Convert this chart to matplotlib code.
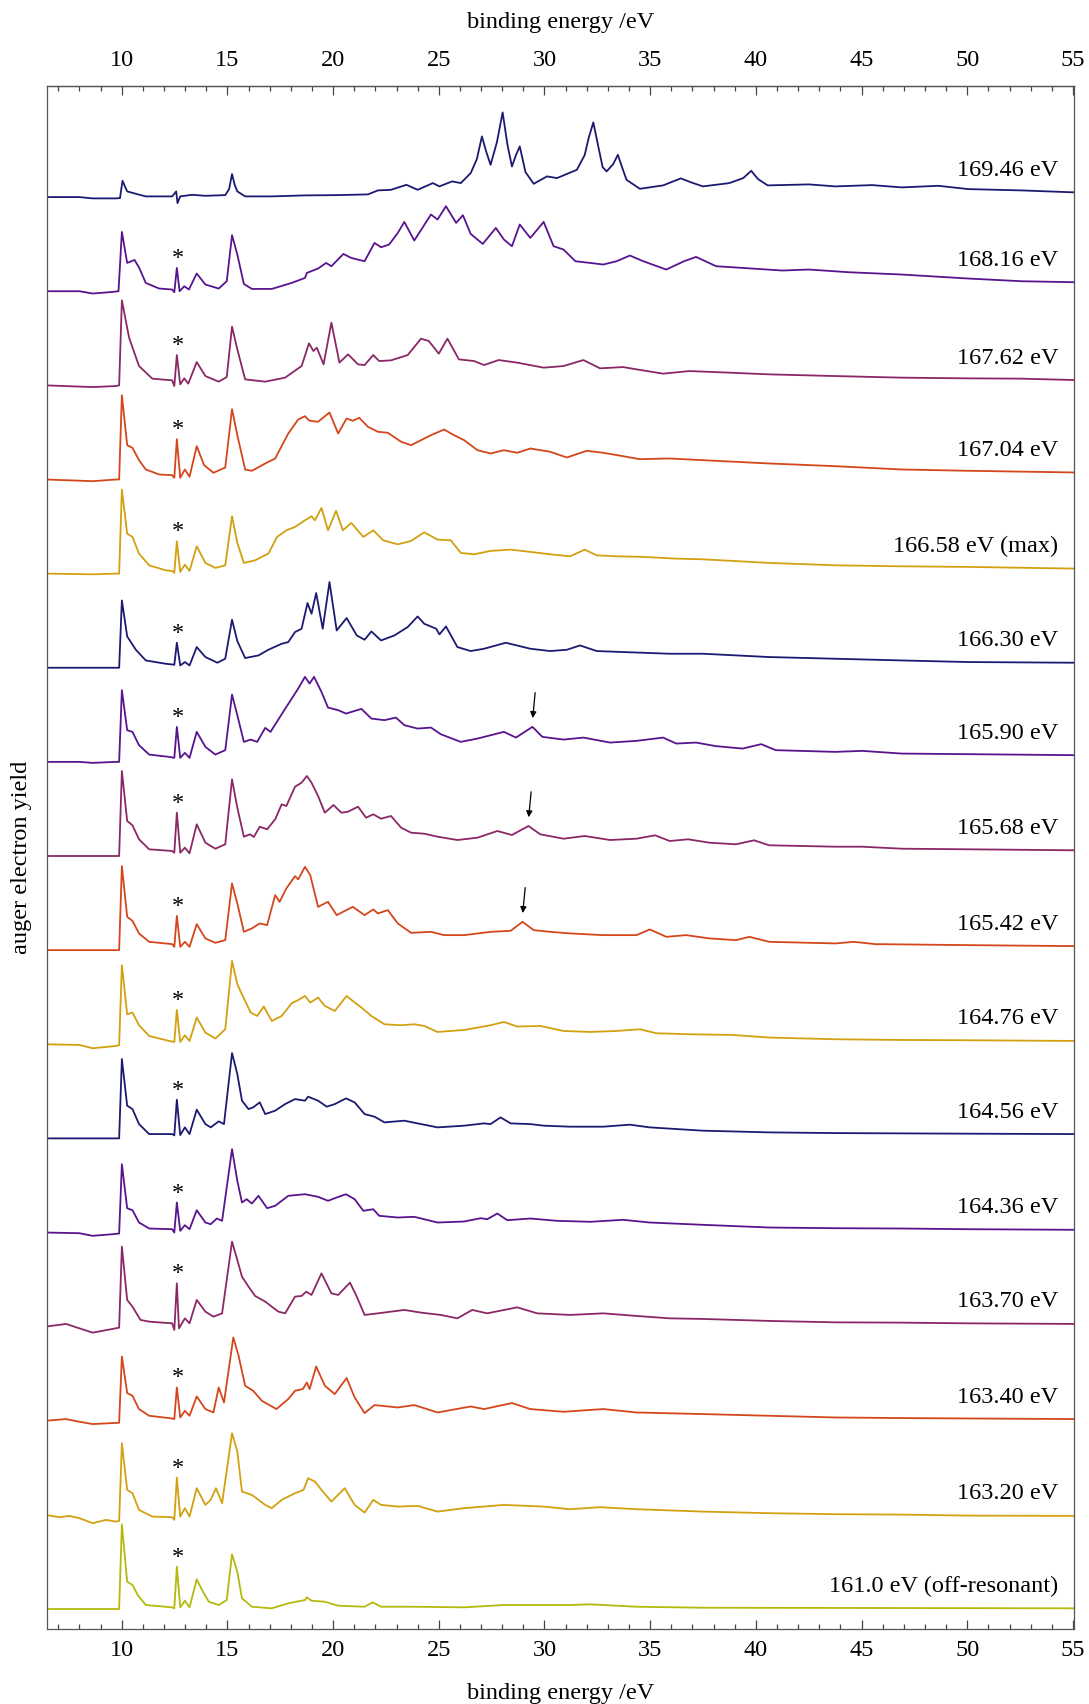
import numpy as np
import matplotlib
matplotlib.use("Agg")
import matplotlib.pyplot as plt
from matplotlib.ticker import MultipleLocator

plt.rcParams["font.family"] = ["Liberation Serif", "DejaVu Serif"]
plt.rcParams["font.size"] = 17.5

# spectra, top to bottom: (binding energy /eV, yield above own baseline, arb. units)
s16946 = [(6.4,0),(8.0,0),(8.63,-1.3),(9.73,-1.3),(9.92,-1),(10.04,16.3),(10.26,5.7),(10.67,3.3),(11.14,0.7),(12.39,0.7),(12.58,5.7),(12.64,-6),(12.77,0.7),(13.33,2.3),(13.96,1.3),(14.90,2),(15.08,8),(15.22,23),(15.35,12),(15.47,5.7),(15.84,0.7),(17.10,0.7),(18.67,1.7),(20.24,2),(21.65,2.7),(22.12,6.7),(22.74,7.3),(23.47,12.3),(24.00,7.3),(24.72,14),(25.03,10.7),(25.63,15.7),(26.04,14),(26.51,24),(26.8,38),(27.04,60.7),(27.25,45),(27.45,32.3),(27.75,55),(28.02,84.7),(28.25,52),(28.46,30.7),(28.65,42),(28.83,50.7),(29.1,25),(29.49,13.3),(30.12,20.7),(30.59,19),(31.53,27.3),(31.9,42),(32.1,60),(32.31,74.7),(32.55,50),(32.75,30),(32.94,25.7),(33.25,33),(33.47,42.3),(33.7,28),(33.88,17.3),(34.51,8.3),(35.61,11.7),(36.0,15),(36.45,18.7),(36.9,15),(37.49,10.7),(38.74,14),(39.4,19),(39.78,26.3),(40.1,18),(40.56,11.7),(42.51,12.7),(43.76,10.7),(45.49,12),(46.90,9.7),(48.63,11.3),(50.04,8),(52.55,6.7),(55.1,4.7)]
s16816 = [(6.4,0),(8.0,0),(8.63,-2.3),(9.57,-0.7),(9.85,0),(10.01,59.3),(10.26,28.3),(10.61,31.3),(10.83,23.3),(11.14,8.3),(11.77,2.7),(12.39,1.7),(12.49,-1),(12.61,23.3),(12.74,0),(12.96,5),(13.18,1.7),(13.55,17.7),(13.96,6.7),(14.59,2.7),(14.97,10),(15.22,56),(15.47,36.7),(15.78,7.3),(16.16,2.3),(17.10,2.3),(18.04,8.3),(18.67,13.3),(18.76,18.3),(19.29,22.7),(19.67,28.3),(19.92,25),(20.49,37.3),(20.86,33.3),(21.49,30),(21.96,48.3),(22.27,44),(22.65,46.7),(23.06,58.3),(23.37,69.3),(23.84,50.7),(24.63,76.7),(24.94,71.7),(25.34,85),(25.82,68.3),(26.14,76),(26.51,57.3),(27.08,47.3),(27.70,63.3),(28.08,51.7),(28.46,45),(28.83,66.7),(29.33,53.3),(29.96,69.3),(30.43,45),(30.90,41.7),(31.46,30),(32.16,28.3),(32.78,26.7),(33.41,30),(34.04,35.7),(34.67,30),(35.76,21.7),(36.6,30),(37.17,34.3),(38.12,25),(39.37,23.3),(41.25,20.7),(42.51,21.7),(44.39,19),(46.90,16.7),(50.04,12.7),(52.55,10),(55.1,9)]
s16762 = [(6.4,0),(8.63,-1.7),(9.73,-0.7),(9.88,0),(10.01,85),(10.35,47.7),(10.82,19.3),(11.45,6.7),(12.39,5),(12.49,-0.7),(12.61,30.3),(12.77,1),(12.96,7),(13.15,1.7),(13.55,23.3),(13.96,9.3),(14.59,3.7),(14.97,8.3),(15.22,58.7),(15.47,36),(15.84,6),(16.79,3.7),(17.73,7.7),(18.51,19.3),(18.86,42),(19.07,34.3),(19.23,37.7),(19.55,21),(19.92,62.7),(20.30,22.7),(20.71,31),(21.18,21),(21.49,20.3),(21.90,30.3),(22.18,24.3),(22.74,25),(23.53,30.3),(24.16,46.7),(24.53,44.3),(25.00,31.7),(25.41,46.7),(25.95,26),(26.67,24.3),(27.14,20.3),(27.83,25.3),(28.71,22.7),(29.96,17.7),(30.90,19.3),(31.84,25.3),(32.63,17),(33.72,18.3),(34.35,16),(35.61,11.7),(36.86,14.3),(38.74,12.7),(40.63,11),(43.76,9.3),(46.90,7.7),(50.04,7),(52.55,6.7),(55.1,5.3)]
s16704 = [(6.4,0),(8.63,-1.7),(9.73,0),(9.88,0),(10.01,84.3),(10.26,34.3),(10.51,31.7),(10.82,19.3),(11.14,10),(11.77,5),(12.39,4.3),(12.49,1.7),(12.61,40.3),(12.77,1.7),(12.99,10),(13.21,2.7),(13.55,33.3),(13.90,14.3),(14.34,6.7),(14.90,12),(15.22,70.3),(15.47,44.3),(15.84,10),(16.16,8.7),(16.79,16),(17.26,21),(17.88,46),(18.35,60),(18.67,63.3),(18.86,59),(19.04,58.3),(19.29,57.7),(19.83,67),(20.24,46),(20.64,61),(20.93,58.7),(21.24,61.7),(21.65,52.7),(22.12,47.7),(22.59,46.7),(23.22,37.7),(23.69,34.3),(24.16,39.3),(24.63,44.3),(25.25,50),(25.72,44.3),(26.20,39.3),(26.83,29.3),(27.45,26),(28.08,29.3),(28.71,26.7),(29.33,31),(30.27,27.7),(31.06,22),(32.00,28.7),(32.78,26.7),(33.72,23.3),(34.51,20.3),(35.92,21),(37.49,19.3),(40.63,16),(43.76,13.3),(46.90,10),(50.04,8.7),(55.1,7)]
s16658 = [(6.4,0),(8.63,-0.7),(9.73,0),(9.88,0),(10.01,84),(10.26,40),(10.51,36.7),(10.82,20),(11.30,8.3),(12.08,3.3),(12.39,2.7),(12.49,0.7),(12.61,32.3),(12.77,1.7),(12.99,9),(13.21,2.7),(13.55,27.3),(13.96,10.7),(14.43,5.7),(14.90,8.3),(15.22,57.3),(15.47,30.7),(15.78,10.7),(16.31,13.3),(16.94,20),(17.35,36.7),(17.79,43.3),(18.20,46.7),(18.67,53.3),(18.98,57.3),(19.14,53.3),(19.45,65.7),(19.76,43.3),(20.14,62.7),(20.46,43.3),(20.86,50.7),(21.43,36.7),(21.90,43.3),(22.37,33.3),(23.06,29.3),(23.69,32.7),(24.31,41.3),(24.94,34),(25.57,33.3),(26.04,20.7),(26.67,19.3),(27.45,22.7),(28.40,24),(29.33,21.7),(30.27,19.3),(31.21,17.3),(31.90,24),(32.47,18.3),(33.41,17.3),(34.67,16.7),(36.23,15),(37.49,14.3),(40.63,10.7),(43.76,8.3),(46.90,7.3),(50.04,6.7),(55.1,5)]
s16630 = [(6.4,0),(9.73,0),(9.88,0),(10.01,67.3),(10.26,31.3),(10.67,18),(11.14,7.3),(12.08,4),(12.49,3),(12.61,25),(12.77,2.3),(12.99,5.7),(13.21,2.3),(13.55,20.7),(13.96,10.7),(14.53,5),(14.90,9),(15.22,48),(15.47,26.7),(15.84,9.7),(16.47,12.3),(16.94,18),(17.57,24),(17.88,25.7),(18.20,35.7),(18.51,39),(18.79,64.7),(18.98,54),(19.20,74.7),(19.51,39),(19.83,85.7),(20.17,37.3),(20.64,49.7),(21.12,32.3),(21.49,28),(21.81,36.3),(22.27,27.3),(22.90,32.3),(23.53,40.7),(24.00,51.3),(24.31,44),(24.88,39),(25.03,33.3),(25.34,41.3),(25.88,20.7),(26.51,16.7),(27.14,19),(28.17,25),(29.33,19),(30.27,16.7),(31.06,18),(31.68,22.3),(32.47,16.7),(33.72,15.7),(35.92,14),(37.49,14),(40.63,10.7),(43.76,9),(46.90,7.3),(50.04,5.7),(55.1,5)]
s16590 = [(6.4,0),(8.0,0),(8.63,-1),(9.73,0),(9.88,0),(10.01,71.7),(10.26,31.7),(10.51,30),(10.82,16.7),(11.30,7.3),(12.24,5),(12.49,4),(12.61,35),(12.77,4),(12.99,9),(13.21,4),(13.55,30),(13.96,15),(14.43,7.3),(14.90,11.7),(15.22,67.3),(15.47,46.7),(15.78,20),(16.10,22.3),(16.41,20),(16.79,34),(17.04,30),(17.41,42.3),(17.79,55),(18.35,73.3),(18.67,85),(18.89,78.3),(19.10,85),(19.45,70),(19.76,54.3),(20.24,51.7),(20.61,48.3),(21.34,53),(21.81,43.3),(22.43,41.7),(22.97,44.3),(23.37,36.7),(24.00,33.3),(24.63,34.3),(25.09,27.7),(26.04,20),(26.83,23.3),(28.08,30),(28.65,24.3),(29.43,35),(29.90,25),(30.90,22.3),(31.84,24.3),(33.10,19.3),(34.35,21),(35.61,24.3),(36.23,18.3),(37.17,19.3),(38.12,15.7),(39.37,13.3),(40.25,17.7),(40.94,11.7),(43.76,10),(45.02,11),(46.90,8.3),(50.04,7.7),(55.1,6.7)]
s16568 = [(6.4,0),(9.73,0),(9.88,0),(10.01,85),(10.26,35),(10.51,30.7),(10.82,16.7),(11.30,6.7),(12.39,5),(12.49,3.3),(12.61,43.3),(12.77,3.3),(12.99,8.3),(13.21,2.7),(13.55,31.7),(13.96,13.3),(14.43,7.3),(14.90,11.7),(15.22,76.7),(15.47,48.3),(15.78,19.3),(16.07,21.7),(16.25,19),(16.53,29.3),(16.88,26.7),(17.26,36.7),(17.57,51.7),(17.79,50),(18.20,69.3),(18.51,73.3),(18.76,80),(18.98,73.3),(19.29,60),(19.61,43.3),(20.02,51),(20.39,43.3),(20.71,44.3),(21.18,49.3),(21.56,38.3),(21.90,41.7),(22.27,37.3),(22.74,40),(23.22,28.3),(23.69,23.3),(24.31,22.3),(24.94,19.3),(25.88,16),(26.83,18.3),(27.77,25),(28.46,21),(29.24,30),(29.80,21.7),(30.90,17.3),(31.90,20),(33.10,16),(34.35,17.3),(35.23,20.7),(35.92,15),(36.80,16.7),(37.80,13.3),(39.06,11.7),(39.91,15.7),(40.63,10.7),(43.76,9.3),(45.02,9.3),(46.90,7.3),(50.04,6.7),(55.1,5.7)]
s16542 = [(6.4,0),(9.73,0),(9.88,0),(10.01,84),(10.26,33.3),(10.51,29.3),(10.82,16.7),(11.30,8.3),(12.39,6),(12.49,3.3),(12.61,34.3),(12.77,3.3),(12.99,8.3),(13.21,3.3),(13.55,26),(13.96,11.7),(14.43,7.3),(14.90,10),(15.22,66.7),(15.47,46.7),(15.78,18.3),(16.16,21.7),(16.53,26.7),(16.88,25),(17.26,55),(17.47,48.3),(17.79,61.7),(18.20,74),(18.35,70.7),(18.67,83.3),(18.92,75),(19.29,43.3),(19.76,48.3),(20.17,35),(20.93,43.3),(21.49,35),(21.90,40.7),(22.12,36.7),(22.59,40),(23.06,26.7),(23.69,17.3),(24.63,18.3),(25.25,15),(26.20,15),(27.45,18.3),(28.40,19.3),(28.96,28.3),(29.49,20),(30.27,18.3),(31.21,16.7),(32.78,15),(34.35,15),(34.98,20.7),(35.76,13.3),(36.70,15),(37.80,11.7),(39.06,10),(39.69,13.3),(40.63,8.3),(43.76,6.7),(44.64,8.3),(45.64,6),(50.04,5),(55.1,4)]
s16476 = [(6.4,0),(8.0,-0.7),(8.63,-4),(9.26,-2.7),(9.73,-1.7),(9.88,-1),(10.01,79),(10.26,30),(10.51,31.7),(10.82,19),(11.30,8.3),(12.24,3.3),(12.49,2.3),(12.61,34.3),(12.77,2.3),(12.99,9),(13.21,3.3),(13.55,26.7),(13.96,11.7),(14.43,5.7),(14.90,15),(15.22,83.3),(15.47,60),(15.69,50),(16.10,31.7),(16.41,28.3),(16.72,37.7),(17.10,23.3),(17.57,28.3),(18.04,41),(18.42,45),(18.67,48.3),(18.92,41.7),(19.29,46.7),(19.61,38.3),(20.08,33.3),(20.64,48.3),(20.93,43.3),(21.34,36.7),(21.81,28.3),(22.43,20),(23.22,19),(23.84,20),(24.31,18.3),(24.94,12.3),(26.20,14.3),(27.45,19),(28.08,22.3),(28.71,17.7),(29.80,18.3),(30.90,13.3),(32.16,12.3),(33.41,13.3),(34.51,15),(35.29,11),(36.86,10),(38.90,9.3),(40.63,6.7),(43.76,5),(46.90,4.3),(50.04,4),(55.1,3.3)]
s16456 = [(6.4,0),(9.73,0),(9.88,0),(10.01,79.3),(10.26,32.7),(10.51,29.3),(10.82,14.3),(11.30,4.3),(12.39,4.3),(12.49,3),(12.61,38.7),(12.77,3.3),(12.99,11),(13.21,4.3),(13.55,28.7),(13.96,14.3),(14.21,11),(14.59,17),(14.84,14.3),(15.22,85.3),(15.47,64.3),(15.69,37.7),(16.00,29.3),(16.22,31),(16.53,36),(16.79,24.3),(17.26,27.7),(17.73,34.3),(18.20,39.3),(18.67,37.7),(18.82,41.7),(19.29,37.7),(19.70,31.7),(20.08,34.3),(20.61,40),(21.02,36),(21.49,24.3),(21.96,21.7),(22.43,16),(23.37,17.7),(24.16,14.3),(24.94,11),(26.20,12.7),(27.14,15),(27.45,14.3),(27.92,21),(28.40,15),(29.33,14.3),(29.96,12.7),(31.21,11.7),(32.78,11.7),(34.04,13.7),(34.98,11),(37.49,7.7),(40.63,6),(43.76,5.3),(46.90,5),(50.04,4.7),(55.1,4.3)]
s16436 = [(6.4,0),(8.0,-0.7),(8.63,-3.3),(9.57,-1.7),(9.88,-1),(10.01,68.3),(10.26,24.3),(10.51,22.3),(10.82,10),(11.30,4),(12.39,3.3),(12.49,0),(12.61,30),(12.77,1.7),(12.99,7.3),(13.21,3.3),(13.55,22.3),(13.96,10),(14.21,8.3),(14.50,14),(14.75,11.7),(15.22,83.3),(15.47,51.7),(15.69,30),(15.91,33.3),(16.16,29),(16.47,36.7),(16.88,24.3),(17.26,26.7),(17.88,36.7),(18.67,38.3),(19.29,35.7),(19.76,31.7),(20.17,35),(20.61,38.3),(21.02,33.3),(21.43,21.7),(21.90,23.3),(22.18,16.7),(23.06,15),(23.84,15.7),(24.94,10),(26.20,11),(26.98,14.3),(27.29,13.3),(27.77,19),(28.24,12.3),(29.33,14),(30.59,11.7),(32.16,10.7),(33.72,12.7),(34.98,10),(37.49,7.7),(40.63,5),(43.76,4.3),(46.90,4),(50.04,3.3),(55.1,2.7)]
s16370 = [(6.4,0),(7.37,2.7),(8.0,-1.7),(8.63,-6),(9.57,-2.3),(9.88,-1),(10.01,80),(10.26,26.7),(10.51,20),(10.89,6.7),(11.30,5),(12.39,3.3),(12.49,-3.3),(12.61,43.3),(12.71,-1.7),(12.99,8.3),(13.21,3.3),(13.55,26.7),(13.96,15),(14.34,10),(14.75,13.3),(15.22,85),(15.47,66.7),(15.69,50),(16.00,40),(16.31,30.7),(16.79,25),(17.41,15),(17.73,13.3),(18.20,30),(18.51,30.7),(18.73,35),(18.98,31.7),(19.45,53.3),(19.92,33.3),(20.24,31.7),(20.80,44),(21.12,30),(21.49,11.7),(22.12,13.3),(23.37,16.7),(24.16,14),(25.09,11.7),(25.88,8.3),(26.58,16.7),(27.29,13.3),(28.71,19.3),(29.65,13.3),(31.21,11.7),(32.78,13.3),(34.35,10.7),(35.92,8.3),(37.49,7.7),(40.63,5.7),(43.76,4.3),(46.90,4),(50.04,3.3),(55.1,2.7)]
s16340 = [(6.4,0),(7.37,1.7),(8.0,-1),(8.63,-3.3),(9.57,-2.3),(9.88,-2),(10.01,64.3),(10.26,27.7),(10.51,25),(10.82,11.7),(11.30,5),(12.39,2.3),(12.49,1.7),(12.61,33.3),(12.77,3.3),(12.99,10),(13.21,5),(13.55,24.3),(13.96,11.7),(14.34,8.3),(14.59,33.3),(14.84,18.3),(15.28,83.3),(15.53,65),(15.84,35),(16.22,30),(16.63,20),(17.32,11.7),(17.88,21.7),(18.20,30),(18.57,31.7),(18.76,38.3),(18.89,31.7),(19.20,54.3),(19.61,35),(20.08,26.7),(20.64,42.7),(21.02,23.3),(21.49,7.7),(21.96,15.7),(23.06,13.3),(23.84,15.7),(24.94,8.3),(26.51,14.3),(27.14,11.7),(28.46,17.7),(29.33,11.7),(30.90,9),(32.78,11.7),(34.35,8.3),(37.49,6.7),(40.63,5),(43.76,3.3),(46.90,2.7),(50.04,2.3),(55.1,1.7)]
s16320 = [(6.4,0),(7.06,-2.3),(7.53,-1),(8.0,-3.3),(8.63,-8.3),(9.26,-5),(9.73,-6.7),(9.88,-6),(10.01,71.7),(10.26,25),(10.51,21.7),(10.82,5),(11.45,-1.7),(12.39,-2.3),(12.49,-5),(12.61,37.3),(12.77,-1.7),(12.99,6.7),(13.21,-1.7),(13.55,26.7),(13.96,10),(14.21,15),(14.46,26.7),(14.75,11.7),(15.22,81.7),(15.47,63.3),(15.69,23.3),(16.16,20),(16.79,10),(17.10,6.7),(17.57,15),(18.20,21.7),(18.60,25),(18.82,36.7),(19.14,33.3),(19.45,25),(19.92,13.3),(20.55,26.7),(21.02,10),(21.49,2.3),(21.90,15),(22.27,10),(23.06,8.3),(24.00,9),(24.94,3.3),(26.20,6.7),(28.08,10),(29.96,8.3),(31.21,5.7),(32.63,7.7),(34.35,5.7),(37.49,3.3),(40.63,1.7),(43.76,0.7),(46.90,0.3),(50.04,-0.7),(55.1,-1)]
s16100 = [(6.4,0),(9.57,0),(9.88,0),(10.01,84.7),(10.26,27.3),(10.51,24),(10.76,14),(11.14,4),(12.39,1.7),(12.49,0.7),(12.61,42.3),(12.77,1.7),(12.99,8.3),(13.21,1.7),(13.55,29.7),(13.80,19),(14.12,7.3),(14.59,4),(14.97,9),(15.22,54.7),(15.47,37.3),(15.69,10.7),(16.16,2.3),(17.10,0.7),(17.88,5.7),(18.67,9),(18.76,11.7),(18.98,8.3),(19.61,7.3),(20.24,3.3),(21.49,2.3),(21.87,6.7),(22.27,2.3),(23.69,2.3),(26.20,1.7),(28.08,4),(31.21,4),(32.16,4.7),(34.35,2.3),(37.49,1.3),(55.1,0.7)]

spectra = [s16946, s16816, s16762, s16704, s16658, s16630, s16590, s16568,
           s16542, s16476, s16456, s16436, s16370, s16340, s16320, s16100]
labels = ["169.46 eV", "168.16 eV", "167.62 eV", "167.04 eV", "166.58 eV (max)",
          "166.30 eV", "165.90 eV", "165.68 eV", "165.42 eV", "164.76 eV",
          "164.56 eV", "164.36 eV", "163.70 eV", "163.40 eV", "163.20 eV",
          "161.0 eV (off-resonant)"]
# sharp peak marked with an asterisk, and arrowed peaks
star_energy = 12.61
arrow_energy = {"165.90 eV": 29.43, "165.68 eV": 29.24, "165.42 eV": 28.96}

cycle = ["#1c1a70", "#58148e", "#8a2866", "#d4461c", "#d2a010"]
colors = cycle * 3 + ["#b4b90c"]

fig = plt.figure(figsize=(10.89, 17.04), dpi=100)
ax = fig.add_axes([0.0432, 0.0440, 0.9431, 0.9055])

n = len(spectra)
step, base = 94.13, 20.0
for i, (pts, lab, col) in enumerate(zip(spectra, labels, colors)):
    e = np.array([p[0] for p in pts])
    h = np.array([p[1] for p in pts])
    off = base + (n - 1 - i) * step
    ax.plot(e, h + off, color=col, lw=1.3, solid_joinstyle="round")
    ax.text(54.3, off + h[-1] + 22, lab, ha="right", va="center", fontsize=17.5)
    if i > 0:
        pk = h[np.argmin(np.abs(e - star_energy))]
        ax.text(star_energy + 0.07, off + pk + 4, "*", ha="center", va="baseline", fontsize=17.5)
    if lab in arrow_energy:
        ea = arrow_energy[lab]
        pk = h[np.argmin(np.abs(e - ea))]
        ax.annotate("", xy=(ea, off + pk + 6), xytext=(ea + 0.14, off + pk + 37),
                    arrowprops=dict(arrowstyle="-|>", color="black", lw=0.9, mutation_scale=9))

ax.set_xlim(6.47, 55.05)
ax.set_ylim(0, 1543)
ax.set_yticks([])
ax.xaxis.set_major_locator(MultipleLocator(5))
ax.xaxis.set_minor_locator(MultipleLocator(1))
ax.tick_params(axis="x", which="major", direction="in", length=6.3, width=0.9, color="#444444", pad=8)
ax.tick_params(axis="x", which="minor", direction="in", length=3.4, width=0.9, color="#444444")
for s in ax.spines.values():
    s.set_color("#555555"); s.set_linewidth(0.9)
ax.set_xlabel("binding energy /eV", labelpad=16)
ax.set_ylabel("auger electron yield")
ax.yaxis.set_label_coords(-0.015, 0.5)

top = ax.secondary_xaxis("top")
top.xaxis.set_major_locator(MultipleLocator(5))
top.xaxis.set_minor_locator(MultipleLocator(1))
top.tick_params(axis="x", which="major", direction="in", length=6.3, width=0.9, color="#444444", pad=10.5)
top.tick_params(axis="x", which="minor", direction="in", length=3.4, width=0.9, color="#444444")
top.spines["top"].set_color("#555555"); top.spines["top"].set_linewidth(0.9)
top.set_xlabel("binding energy /eV", labelpad=16)

fig.savefig("out.png", dpi=100)
